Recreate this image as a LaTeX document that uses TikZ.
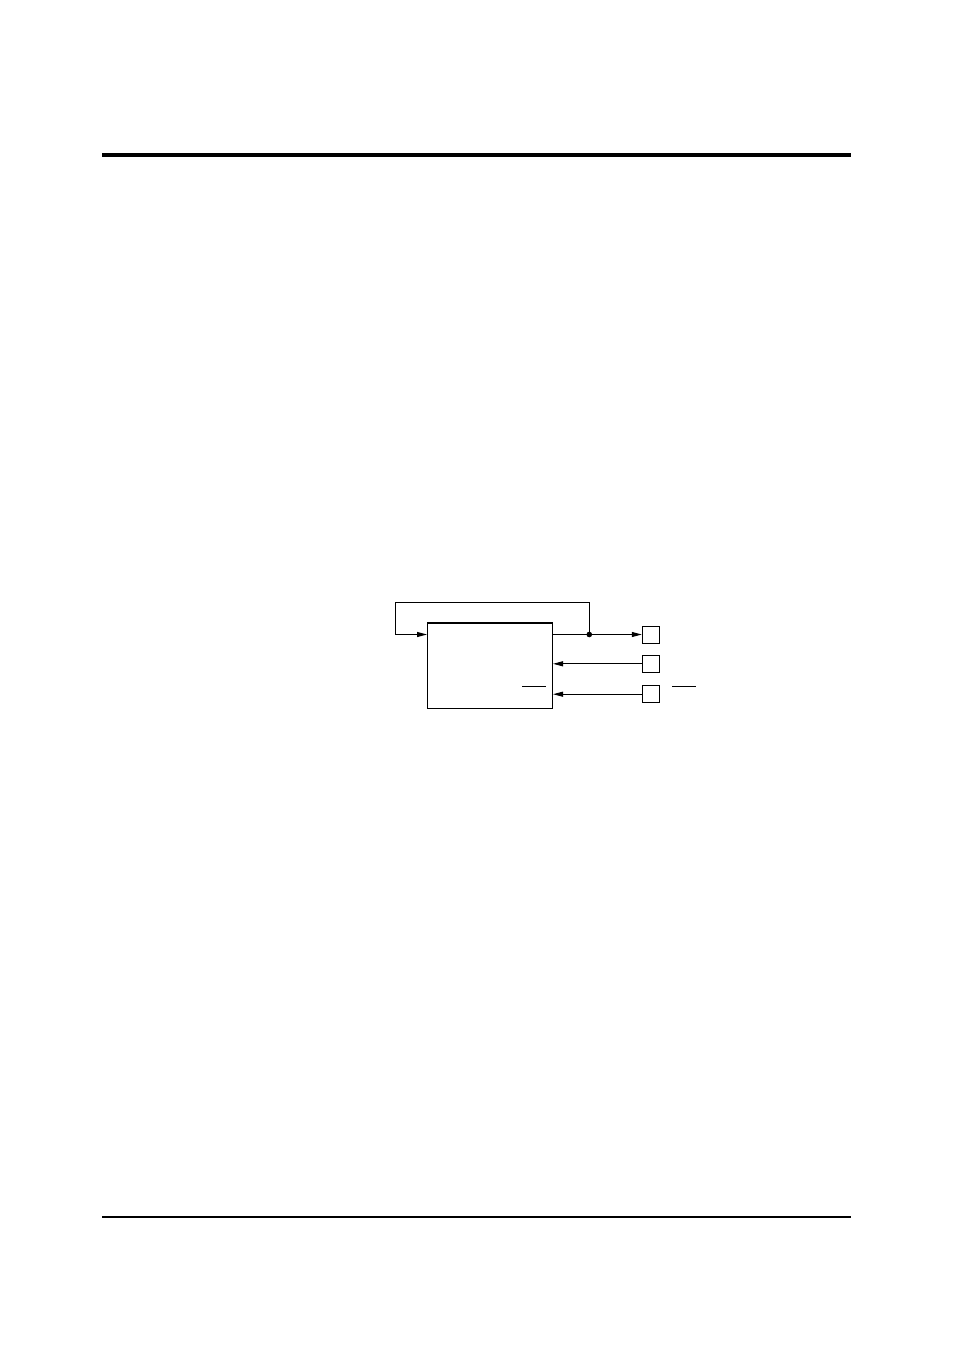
\documentclass[tikz,border=0pt]{standalone}
\usetikzlibrary{arrows.meta}
\begin{document}
\begin{tikzpicture}[x=1pt,y=-1pt,
  wire/.style={line width=1pt,black},
  tip/.style={-{Triangle[length=10pt,width=5pt]}},
  mainbox/.style={draw,line width=1.4pt,minimum width=124.6pt,minimum height=85.3pt,inner sep=0pt},
  pin/.style={draw,line width=1pt,minimum size=17pt,inner sep=0pt}]
\useasboundingbox (0,0) rectangle (954,1351);
% page rules
\draw[line width=4pt] (102,155.5) -- (851,155.5);
\draw[line width=1.4pt] (102,1217) -- (851,1217);
% block
\node[mainbox] (box) at (490,665.7) {};
\node[pin] (p1) at (650.8,634.5) {};
\node[pin] (p2) at (650.8,663.8) {};
\node[pin] (p3) at (650.8,694.2) {};
\coordinate (j) at (589.3,634.5);
\coordinate (loopc) at (395.3,602.7);
\draw[wire,tip] (box.east |- p1) -- (p1.west);
\draw[wire,tip] (j) |- (loopc) |- (box.west |- j);
\fill (j) circle (2.8pt);
\draw[wire,tip] (p2.west) -- (box.east |- p2);
\draw[wire,tip] (p3.west) -- (box.east |- p3);
% overbars
\draw[wire] (522.3,686.3) -- (545.7,686.3);
\draw[wire] (672.3,686.3) -- (695.7,686.3);
\end{tikzpicture}
\end{document}
